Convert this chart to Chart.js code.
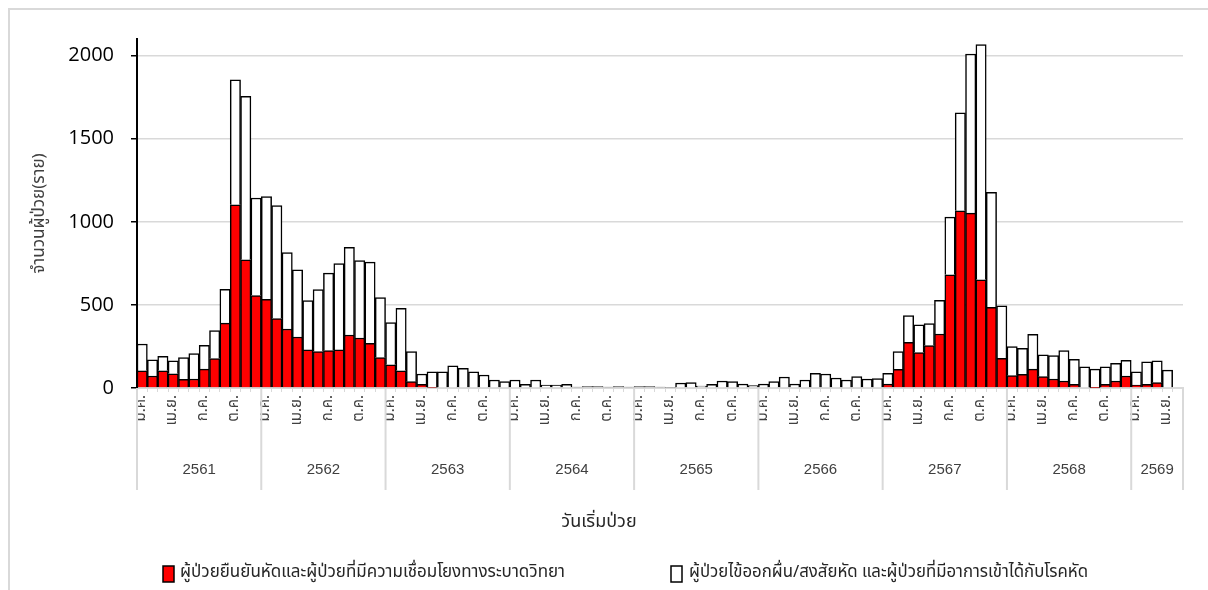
<!DOCTYPE html>
<html>
<head>
<meta charset="utf-8">
<script src="https://cdn.jsdelivr.net/npm/chart.js@4.4.1/dist/chart.umd.min.js"></script>
<style>
  html, body { margin: 0; padding: 0; background: #fff; }
  #wrap { position: relative; width: 1208px; height: 590px; }
  #frame { position: absolute; left: 8px; top: 8px; right: 0; bottom: 0; border-left: 2px solid #d9d9d9; border-top: 2px solid #d9d9d9; pointer-events: none; }
</style>
</head>
<body>
<div id="wrap">
  <canvas id="measlesChart"></canvas>
  <div id="frame"></div>
</div>
<script>
// years (Buddhist era) and how many months each one has on the axis
const years = ['2561', '2562', '2563', '2564', '2565', '2566', '2567', '2568', '2569'];
const monthsPerYear = [12, 12, 12, 12, 12, 12, 12, 12, 5];
const monthNames = ['ม.ค.', 'ก.พ.', 'มี.ค.', 'เม.ย.', 'พ.ค.', 'มิ.ย.', 'ก.ค.', 'ส.ค.', 'ก.ย.', 'ต.ค.', 'พ.ย.', 'ธ.ค.'];
const shownMonths = ['ม.ค.', 'เม.ย.', 'ก.ค.', 'ต.ค.'];

// confirmed + epi-linked cases (red, bottom of stack)
const confirmed = [
  104, 72, 104, 86, 52, 54, 114, 177, 390, 1102, 771, 556,
  534, 418, 355, 307, 229, 219, 225, 229, 319, 301, 269, 183,
  140, 104, 38, 22, 3, 0, 0, 0, 0, 0, 0, 0,
  0, 0, 0, 0, 0, 0, 0, 0, 0, 0, 0, 0,
  0, 0, 0, 0, 0, 0, 0, 0, 0, 0, 0, 0,
  0, 0, 0, 0, 0, 0, 0, 0, 0, 0, 0, 0,
  24, 112, 275, 213, 255, 325, 681, 1066, 1052, 651, 486, 179,
  74, 82, 114, 68, 54, 42, 22, 0, 2, 22, 42, 72,
  18, 22, 32, 0, 0
];

// fever-rash / suspected cases (white, top of stack)
const suspected = [
  161, 97, 87, 77, 131, 153, 143, 168, 204, 753, 984, 587,
  618, 680, 460, 404, 297, 373, 466, 520, 528, 466, 488, 361,
  254, 376, 181, 62, 95, 98, 133, 119, 98, 78, 48, 38,
  48, 22, 48, 18, 18, 22, 5, 8, 8, 5, 8, 5,
  8, 8, 5, 3, 30, 32, 12, 22, 42, 38, 24, 14,
  24, 38, 66, 24, 48, 88, 84, 60, 48, 68, 54, 56,
  64, 107, 161, 167, 133, 203, 347, 589, 958, 1415, 691, 315,
  175, 157, 209, 131, 141, 183, 151, 128, 112, 106, 107, 95,
  80, 135, 131, 108, 0
];

const yTicks = [0, 500, 1000, 1500, 2000];
const yMax = 2100;

const seriesNames = [
  'ผู้ป่วยยืนยันหัดและผู้ป่วยที่มีความเชื่อมโยงทางระบาดวิทยา',
  'ผู้ป่วยไข้ออกผื่น/สงสัยหัด และผู้ป่วยที่มีอาการเข้าได้กับโรคหัด'
];
const xTitle = 'วันเริ่มป่วย';
const yTitle = 'จำนวนผู้ป่วย(ราย)';

const thaiFont = '"Noto Sans Thai", Tahoma, "Noto Sans", sans-serif';
const numFont = '"Open Sans", "Noto Sans", sans-serif';

// one category per month
const labels = [];
years.forEach((yr, i) => {
  for (let m = 0; m < monthsPerYear[i]; m++) labels.push(monthNames[m]);
});

// year row, separators, x title and legend under the axis
const yearRows = {
  id: 'yearRows',
  afterDraw(chart) {
    const { ctx, scales: { x } } = chart;
    const half = (x.getPixelForValue(1) - x.getPixelForValue(0)) / 2;
    const top = x.top;
    ctx.save();
    ctx.strokeStyle = '#d9d9d9';
    ctx.lineWidth = 2;
    ctx.fillStyle = '#404040';
    ctx.font = '15px "Liberation Sans", Arial, sans-serif';
    ctx.textAlign = 'center';
    ctx.textBaseline = 'middle';
    let start = 0;
    years.forEach((yr, i) => {
      const left = x.getPixelForValue(start) - half;
      const right = x.getPixelForValue(start + monthsPerYear[i]) - half;
      ctx.beginPath();
      ctx.moveTo(left, top);
      ctx.lineTo(left, top + 102);
      if (i === years.length - 1) {
        ctx.moveTo(right, top);
        ctx.lineTo(right, top + 102);
      }
      ctx.stroke();
      ctx.fillText(yr, (left + right) / 2, top + 82);
      start += monthsPerYear[i];
    });

    // axis title, centred on the whole figure
    ctx.fillStyle = '#262626';
    ctx.font = '18px ' + thaiFont;
    ctx.fillText(xTitle, 599, top + 135);

    // legend
    const items = [
      { boxX: 163, textX: 180, maxW: 386 },
      { boxX: 671, textX: 689, maxW: 399 }
    ];
    const ly = top + 186;
    ctx.textAlign = 'left';
    ctx.font = '17px ' + thaiFont;
    chart.data.datasets.forEach((ds, i) => {
      const it = items[i];
      ctx.fillStyle = ds.backgroundColor;
      ctx.fillRect(it.boxX, ly - 8, 11, 16);
      ctx.strokeStyle = '#000';
      ctx.lineWidth = 1.5;
      ctx.strokeRect(it.boxX, ly - 8, 11, 16);
      ctx.fillStyle = '#262626';
      ctx.fillText(ds.label, it.textX, ly, it.maxW);
    });
    ctx.restore();
  }
};

new Chart(document.getElementById('measlesChart'), {
  type: 'bar',
  data: {
    labels: labels,
    datasets: [
      {
        label: seriesNames[0],
        data: confirmed,
        backgroundColor: '#ff0000',
        borderColor: '#000000',
        borderWidth: 1.5,
        barPercentage: 1,
        categoryPercentage: 1
      },
      {
        label: seriesNames[1],
        data: suspected,
        backgroundColor: '#ffffff',
        borderColor: '#000000',
        borderWidth: 1.5,
        barPercentage: 1,
        categoryPercentage: 1
      }
    ]
  },
  options: {
    responsive: true,
    maintainAspectRatio: false,
    animation: false,
    layout: { padding: { top: 39, right: 25, bottom: 0, left: 0 } },
    plugins: {
      legend: { display: false },
      tooltip: { enabled: false }
    },
    scales: {
      x: {
        stacked: true,
        afterFit: scale => { scale.height = 202; },
        grid: {
          display: true,
          drawOnChartArea: false,
          color: '#d9d9d9',
          tickLength: 4
        },
        border: { color: '#d9d9d9', width: 2 },
        ticks: {
          autoSkip: false,
          minRotation: 90,
          maxRotation: 90,
          padding: 3,
          color: '#404040',
          font: { family: thaiFont, size: 15 },
          callback: function (value, index) {
            const name = labels[index];
            return shownMonths.includes(name) ? name : '';
          }
        }
      },
      y: {
        stacked: true,
        min: 0,
        max: yMax,
        afterFit: scale => { scale.width = 137; },
        afterBuildTicks: scale => {
          scale.ticks = yTicks.map(v => ({ value: v }));
        },
        grid: {
          color: '#d9d9d9',
          lineWidth: 1.5,
          tickColor: '#000000',
          tickLength: 6
        },
        border: { color: '#000000', width: 2 },
        ticks: {
          padding: 17,
          color: '#000000',
          font: { family: numFont, size: 20 },
          callback: value => String(value)
        },
        title: {
          display: true,
          text: yTitle,
          color: '#404040',
          font: { family: thaiFont, size: 17 },
          padding: { top: 30, bottom: 0 }
        }
      }
    }
  },
  plugins: [yearRows]
});
</script>
</body>
</html>
